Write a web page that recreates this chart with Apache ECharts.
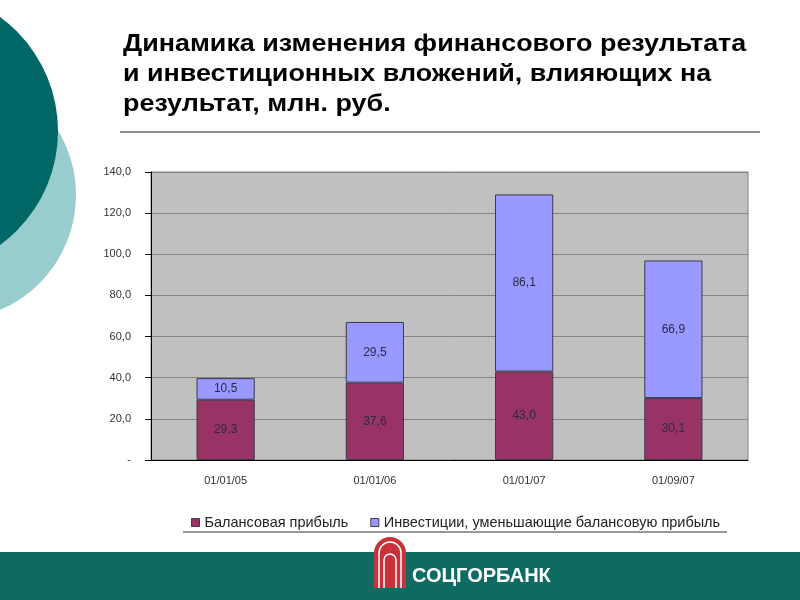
<!DOCTYPE html>
<html><head><meta charset="utf-8">
<script src="https://cdn.jsdelivr.net/npm/echarts@6/dist/echarts.min.js"></script>
<style>html,body{margin:0;padding:0;background:#fff}#c{width:800px;height:600px}</style>
</head><body><div id="c"></div>
<script>
const categories = ['01/01/05', '01/01/06', '01/01/07', '01/09/07'];
const profit = [29.3, 37.6, 43.0, 30.1];
const invest = [10.5, 29.5, 86.1, 66.9];
const seriesNames = ['Балансовая прибыль', 'Инвестиции, уменьшающие балансовую прибыль'];
const titleLines = ['Динамика изменения финансового результата', 'и инвестиционных вложений, влияющих на', 'результат, млн. руб.'];
const footerText = 'СОЦГОРБАНК';

const fmt = v => v.toFixed(1).replace('.', ',');
const chart = echarts.init(document.getElementById('c'));
const font = '"Liberation Sans", Arial, sans-serif';
const W = '#fff';
chart.setOption({
  animation: false,
  textStyle: { fontFamily: font },
  grid: { left: 151, right: 52, top: 172, bottom: 140, show: true, backgroundColor: '#c0c0c0', borderColor: '#808080', borderWidth: 1 },
  legend: {
    left: 186, top: 510, itemWidth: 8, itemHeight: 8, itemGap: 22, itemStyle: { borderColor: '#3a3a4a', borderWidth: 1 },
    textStyle: { fontSize: 14.5, color: '#222', fontFamily: font },
    data: seriesNames.map(n => ({ name: n, icon: 'rect' }))
  },
  xAxis: {
    type: 'category', data: categories,
    axisLine: { lineStyle: { color: '#000' } },
    axisTick: { show: false },
    axisLabel: { color: '#333', fontSize: 11, margin: 15 }
  },
  yAxis: {
    type: 'value', min: 0, max: 140, interval: 20,
    axisLine: { show: true, lineStyle: { color: '#000' } },
    axisTick: { show: true, length: 6, lineStyle: { color: '#000' } },
    splitLine: { lineStyle: { color: '#858585' } },
    axisLabel: { color: '#333', fontSize: 11, margin: 20, formatter: v => v === 0 ? '-' : fmt(v) }
  },
  series: [
    { name: seriesNames[0], type: 'bar', stack: 's', data: profit, barWidth: '39%',
      itemStyle: { color: '#993366', borderColor: '#3a3a4a', borderWidth: 1 },
      label: { show: true, position: 'inside', color: '#2a2a44', fontSize: 12, formatter: p => fmt(p.value) } },
    { name: seriesNames[1], type: 'bar', stack: 's', data: invest, barWidth: '39%',
      itemStyle: { color: '#9999ff', borderColor: '#3a3a4a', borderWidth: 1 },
      label: { show: true, position: 'inside', color: '#2a2a44', fontSize: 12, formatter: p => fmt(p.value) } }
  ],
  graphic: [
    { type: 'circle', shape: { cx: -49, cy: 195, r: 125 }, style: { fill: '#99cccc' }, z: 0 },
    { type: 'circle', shape: { cx: -83, cy: 131, r: 141 }, style: { fill: '#006666' }, z: 1 },
    { type: 'text', x: 123, y: 30, scaleX: 1.17, style: { text: titleLines.join('\n'), font: 'bold 23px ' + font, fill: '#000', lineHeight: 30 } },
    { type: 'line', shape: { x1: 120, y1: 132, x2: 760, y2: 132 }, style: { stroke: '#8a8a8a', lineWidth: 2 } },
    { type: 'line', shape: { x1: 183, y1: 532, x2: 727, y2: 532 }, style: { stroke: '#333', lineWidth: 1 } },
    { type: 'rect', shape: { x: 0, y: 552, width: 800, height: 48 }, style: { fill: '#0d6b62' }, z: 2 },
    { type: 'rect', shape: { x: 374, y: 537, width: 32, height: 51, r: [16, 16, 0, 0] }, style: { fill: '#c8323a' }, z: 3 },
    { type: 'arc', shape: { cx: 390, cy: 553, r: 11, startAngle: Math.PI, endAngle: 2 * Math.PI }, style: { fill: 'none', stroke: W, lineWidth: 1.5 }, z: 4 },
    { type: 'line', shape: { x1: 379, y1: 553, x2: 379, y2: 588 }, style: { stroke: W, lineWidth: 1.5 }, z: 4 },
    { type: 'line', shape: { x1: 401, y1: 553, x2: 401, y2: 588 }, style: { stroke: W, lineWidth: 1.5 }, z: 4 },
    { type: 'arc', shape: { cx: 390, cy: 560, r: 6, startAngle: Math.PI, endAngle: 2 * Math.PI }, style: { fill: 'none', stroke: W, lineWidth: 1.5 }, z: 4 },
    { type: 'line', shape: { x1: 384, y1: 560, x2: 384, y2: 588 }, style: { stroke: W, lineWidth: 1.5 }, z: 4 },
    { type: 'line', shape: { x1: 396, y1: 560, x2: 396, y2: 588 }, style: { stroke: W, lineWidth: 1.5 }, z: 4 },
    { type: 'text', x: 412, y: 566, style: { text: footerText, font: 'bold 20px ' + font, fill: W }, z: 4 }
  ]
});
</script></body></html>
